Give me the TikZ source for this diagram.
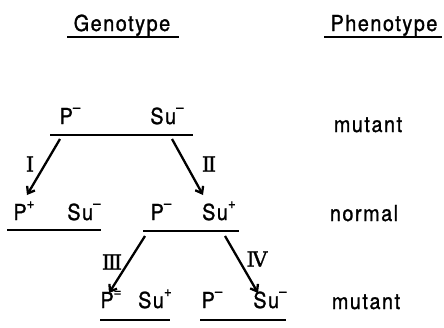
\documentclass[tikz,border=0pt]{standalone}
\usepackage{fontspec}
\usetikzlibrary{arrows.meta}
\setmainfont{TeX Gyre Heros}[LetterSpace=7,FakeBold=1.2,FakeStretch=0.9]
\newfontfamily\numfont{DejaVu Serif}[FakeBold=1]
\newcommand\upsc[1]{\raisebox{1.0ex}{\fontsize{15}{15}\selectfont #1}}
\begin{document}
\begin{tikzpicture}[x=1pt,y=-1pt,
  txt/.style={font=\fontsize{22}{26}\selectfont, inner sep=0pt, anchor=base},
  num/.style={font=\numfont\fontsize{21}{24}\selectfont, inner sep=0pt},
  uline/.style={line width=2.2pt},
  arr/.style={line width=2.3pt, -{Straight Barb[length=6pt,width=9pt,line width=2.3pt]}}]
\useasboundingbox (0,0) rectangle (444,327);
% headings
\node[txt] (gen) at (122,31) {Genotype};
\node[txt] (phen) at (384,31) {Phenotype};
\coordinate (gl) at (67,37); \coordinate (gr) at (179,37);
\coordinate (pl) at (324,37); \coordinate (pr) at (442,37);
\draw[uline] (gl) -- (gr);
\draw[uline] (pl) -- (pr);
% row 1
\node[txt] (p1) at (70,124) {P\upsc{–}};
\node[txt] (s1) at (167,124) {Su\upsc{–}};
\coordinate (l1a) at (50,135); \coordinate (l1b) at (193,135);
\draw[uline] (l1a) -- (l1b);
\node[txt] (ph1) at (368,132) {mutant};
% arrows I, II
\coordinate (a1s) at (60,139); \coordinate (a1e) at (27,195);
\coordinate (a2s) at (172,139); \coordinate (a2e) at (203,195);
\draw[arr] (a1s) -- (a1e);
\draw[arr] (a2s) -- (a2e);
\node[num] (n1) at (30,164) {Ⅰ};
\node[num] (n2) at (209,164) {Ⅱ};
% row 2
\node[txt] (p2a) at (24,220) {P\upsc{+}};
\node[txt] (s2a) at (84,220) {Su\upsc{–}};
\coordinate (l2a) at (7,230); \coordinate (l2b) at (101,230);
\draw[uline] (l2a) -- (l2b);
\node[txt] (p2b) at (161,220) {P\upsc{–}};
\node[txt] (s2b) at (219,220) {Su\upsc{+}};
\coordinate (l2c) at (143,231); \coordinate (l2d) at (239,231);
\draw[uline] (l2c) -- (l2d);
\node[txt] (ph2) at (364,221) {normal};
% arrows III, IV
\coordinate (a3s) at (145,236); \coordinate (a3e) at (109,293);
\coordinate (a4s) at (225,236); \coordinate (a4e) at (258,293);
\draw[arr] (a3s) -- (a3e);
\draw[arr] (a4s) -- (a4e);
\node[num] (n3) at (112,262) {Ⅲ};
\node[num] (n4) at (257,259) {Ⅳ};
% row 3
\node[txt] (p3a) at (111,308) {P\upsc{=}};
\node[txt] (s3a) at (155,308) {Su\upsc{+}};
\coordinate (l3a) at (100,320); \coordinate (l3b) at (170,320);
\draw[uline] (l3a) -- (l3b);
\node[txt] (p3b) at (212,308) {P\upsc{–}};
\node[txt] (s3b) at (270,308) {Su\upsc{–}};
\coordinate (l3c) at (200,320); \coordinate (l3d) at (286,320);
\draw[uline] (l3c) -- (l3d);
\node[txt] (ph3) at (366,309) {mutant};
\end{tikzpicture}
\end{document}
